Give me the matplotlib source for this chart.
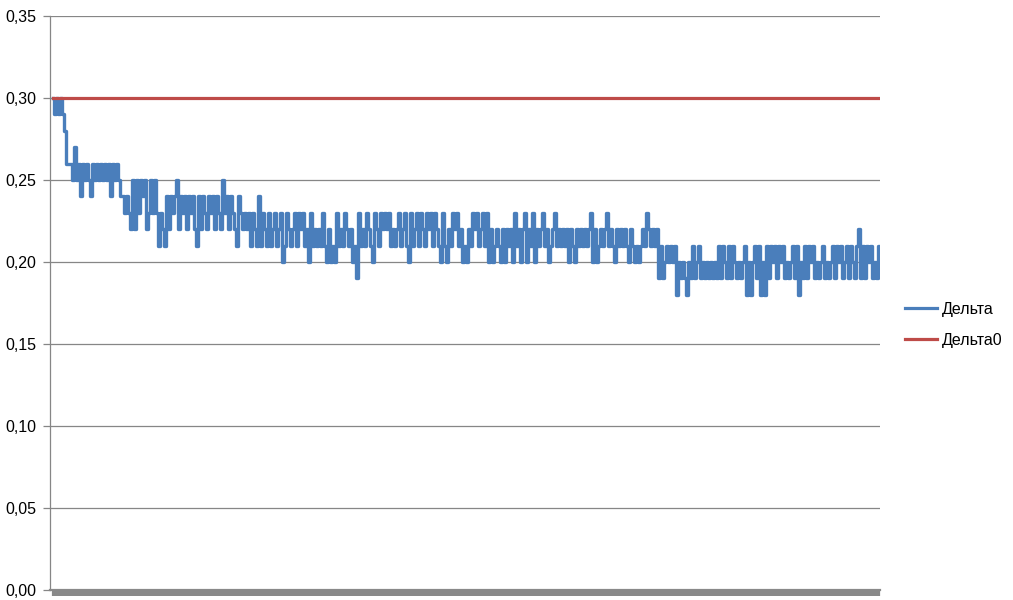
import numpy as np
import matplotlib
matplotlib.use('Agg')
import matplotlib.pyplot as plt
from matplotlib.ticker import FuncFormatter

# Дельта, in hundredths left to right (about one value per 2 px)
delta_pct = [
    30, 29, 30, 29, 30, 29, 28,
    26, 26, 26, 25, 27, 25,
    26, 24, 26, 25, 26, 25, 24, 26, 25, 26, 25, 26, 25, 26, 25, 26, 24, 26, 25, 26, 25, 24,
    24, 23, 24, 23, 22, 25, 22, 25, 23, 25, 24, 25, 22, 23, 25, 23, 25, 23,
    21, 23, 22, 21,
    24, 22, 24, 23, 24, 25, 22, 24, 23, 24, 22, 24, 23, 24, 22, 21, 24, 22, 24, 23, 22, 24,
    23, 24, 22, 24, 23, 22, 25, 23, 24, 22, 24, 23, 22, 21, 24,
    23, 22, 23, 22,
    23, 21, 23, 22, 21, 24, 21, 23, 22, 21, 23, 21, 22, 23, 21, 22, 23, 20, 21, 23, 22, 21,
    22, 23, 21, 23, 22, 23, 21, 22, 20, 23, 21, 22, 21, 22, 21, 23, 21, 20, 22, 20, 21, 20,
    23, 21, 22, 21, 23, 22, 21, 22, 20, 21, 19, 23, 21, 22, 21, 23, 22,
    21, 20, 23, 22, 21, 23, 22, 23, 22, 23, 21, 22, 21, 22, 23, 21, 22, 23, 21, 20, 23, 21,
    22, 23, 21, 23, 22, 21, 23, 22, 23, 21, 23, 22, 21, 20, 23, 21, 20, 22, 21, 23, 22, 23,
    21, 22, 20, 21, 20, 22, 21, 23, 22, 23, 21, 22, 23, 21, 23, 20, 22, 20,
    21, 22, 21, 20, 22, 20, 22, 21, 22, 20, 23, 21, 22, 20, 22, 23, 20, 22, 21, 23, 20, 22,
    21, 22, 23, 21, 22, 20, 21, 22, 23, 21, 22, 21, 22, 21, 22, 20, 22, 21, 20, 22, 21, 22,
    21, 22, 21, 22, 23, 20, 22, 20, 21, 22, 21, 22, 23, 21, 22, 21,
    20, 22, 21, 22, 21, 22, 21, 20, 22, 21, 20, 21, 20, 21, 22, 21, 23, 22, 21, 22, 21, 22,
    19, 21, 19, 20, 21,
    20, 21, 20, 21, 18, 20, 19, 20, 19, 18, 20, 19,
    21, 19, 20, 21, 19, 20, 19, 20, 19, 20, 19, 20, 19, 21, 19, 21, 20, 19, 21, 19, 21, 20,
    19, 20, 19, 20, 21,
    18, 20, 18, 20, 21, 19, 21, 18, 20, 18, 21, 19, 21, 20, 21, 19, 21, 20, 21, 19, 20, 19,
    20, 21, 19, 21, 18, 20, 19, 21, 19, 21, 20, 21, 19, 20, 19, 20, 21, 19, 20, 19, 20, 21,
    19, 21, 20, 21, 19, 20, 21, 19, 21, 20, 19, 21, 22, 19, 21, 19, 21, 20, 21, 19, 20, 19, 21,
]
delta0_value = 0.30
y_ticks = [0.00, 0.05, 0.10, 0.15, 0.20, 0.25, 0.30, 0.35]
series_names = ['Дельта', 'Дельта0']

delta = np.array(delta_pct) / 100.0
x = np.arange(len(delta))
delta0 = np.full(len(delta), delta0_value)

plt.rcParams['font.family'] = ['Liberation Sans', 'DejaVu Sans']

fig = plt.figure(figsize=(10.13, 6.0), dpi=100)
ax = fig.add_axes([50 / 1013, 10 / 600, 830 / 1013, 574 / 600])

grid_col = '#868686'
for yv in y_ticks[1:]:
    ax.axhline(yv, color=grid_col, lw=0.9, zorder=1)

# the real series is very dense, so draw it stepped to get the solid bands
ax.plot(x, delta, color='#4A7EBB', lw=2.4, drawstyle='steps-mid', zorder=3, label=series_names[0])
ax.plot(x, delta0, color='#BE4B48', lw=2.3, zorder=4, label=series_names[1])

ax.set_xlim(-1.5, len(delta) - 0.5)
ax.set_ylim(0, 0.35)
ax.set_yticks(y_ticks)
ax.yaxis.set_major_formatter(FuncFormatter(lambda v, p: '{:.2f}'.format(v).replace('.', ',')))
ax.tick_params(axis='y', direction='out', length=5, width=0.9, color=grid_col,
               labelsize=11.5, labelcolor='#000000', pad=5)

# dense category ticks make the thick grey band under the plot
ax.set_xticks(x)
ax.set_xticklabels([])
ax.tick_params(axis='x', direction='out', length=4.5, width=1.6, color='#898989')

for side in ['top', 'right']:
    ax.spines[side].set_visible(False)
ax.spines['left'].set_color(grid_col)
ax.spines['left'].set_linewidth(0.9)
ax.spines['bottom'].set_color('#898989')
ax.spines['bottom'].set_linewidth(1.6)

leg = fig.legend(loc='center left', bbox_to_anchor=(891 / 1013, 1 - 325 / 600), frameon=False,
                 fontsize=11.5, handlelength=2.0, handletextpad=0.3, labelspacing=1.0)
for line in leg.get_lines():
    line.set_linewidth(2.3)

fig.savefig('out.png', dpi=100, facecolor='white')
